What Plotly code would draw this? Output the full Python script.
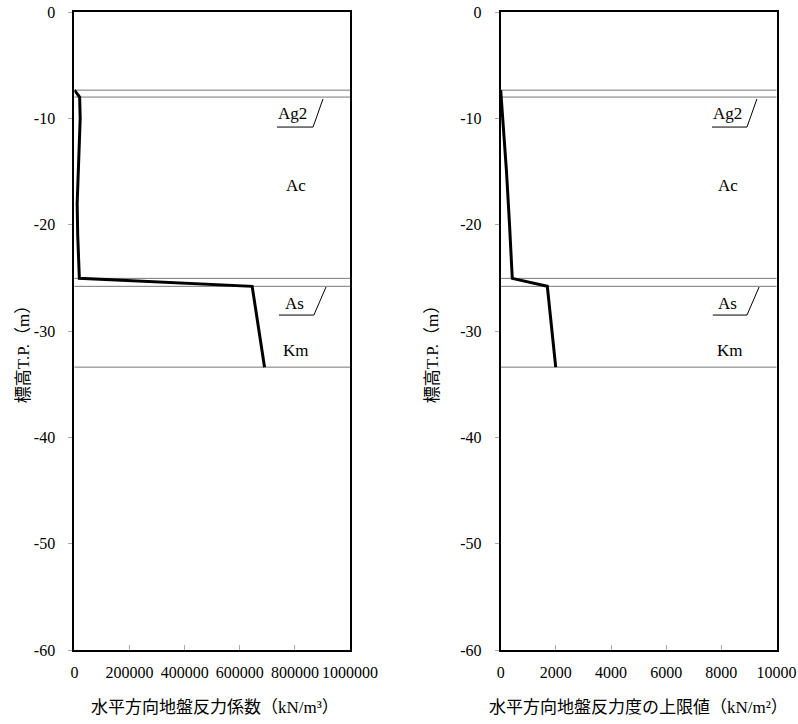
import plotly.graph_objects as go

# ---- data ----
left_depth = [-7.35, -8.0, -10.0, -12.0, -15.0, -18.0, -21.0, -25.05, -25.8, -33.4]
left_value = [0, 19000, 21000, 18000, 12000, 10000, 12000, 18000, 645000, 690000]

right_depth = [-7.35, -8.0, -15.0, -20.0, -25.05, -25.8, -33.4]
right_value = [0, 20, 210, 320, 420, 1690, 1995]

layer_depths = [-7.35, -8.0, -25.05, -25.8, -33.4]
layer_names = ["Ag2", "Ac", "As", "Km"]
layer_label_y = [-9.5, -16.3, -27.37, -31.8]

left_xticks = [0, 200000, 400000, 600000, 800000, 1000000]
right_xticks = [0, 2000, 4000, 6000, 8000, 10000]
yticks = [0, -10, -20, -30, -40, -50, -60]

left_xtitle = "水平方向地盤反力係数（kN/m³）"
right_xtitle = "水平方向地盤反力度の上限値（kN/m²）"
ytitle = "標高T.P.（m）"

FONT = "'Liberation Serif', 'Noto Sans CJK JP', serif"

fig = go.Figure()
fig.add_trace(go.Scatter(x=left_value, y=left_depth, mode="lines",
                         line=dict(color="black", width=3), xaxis="x", yaxis="y",
                         showlegend=False, hoverinfo="skip"))
fig.add_trace(go.Scatter(x=right_value, y=right_depth, mode="lines",
                         line=dict(color="black", width=3), xaxis="x2", yaxis="y2",
                         showlegend=False, hoverinfo="skip"))

W, H = 798, 724
ldom = [74.4 / W, 350.0 / W]
rdom = [500.7 / W, 776.5 / W]
top = 12
bottom = H - 650
plot_h = H - top - bottom

common_x = dict(showgrid=False, zeroline=False, showline=True, linecolor="black",
                linewidth=2, mirror=True, ticks="inside", ticklen=5, tickcolor="#aaaaaa",
                tickfont=dict(family=FONT, size=16, color="black"), automargin=False,
                ticklabelstandoff=7, ticklabeloverflow="allow")
common_y = dict(showgrid=False, zeroline=False, showline=True, linecolor="black",
                linewidth=2, mirror=True, ticks="outside", ticklen=4, tickcolor="#aaaaaa",
                tickfont=dict(family=FONT, size=16, color="black"), automargin=False,
                range=[-60, 0], tickvals=yticks, ticktext=[str(v) for v in yticks],
                ticklabelstandoff=10, ticklabeloverflow="allow")

fig.update_layout(
    width=W, height=H, autosize=False,
    margin=dict(l=0, r=0, t=top, b=bottom),
    paper_bgcolor="white", plot_bgcolor="white",
    xaxis=dict(domain=ldom, range=[0, 1000000], tickvals=left_xticks,
               ticktext=[str(v) for v in left_xticks], anchor="y", **common_x),
    yaxis=dict(domain=[0, 1], anchor="x", **common_y),
    xaxis2=dict(domain=rdom, range=[0, 10000], tickvals=right_xticks,
                ticktext=[str(v) for v in right_xticks], anchor="y2", **common_x),
    yaxis2=dict(domain=[0, 1], anchor="x2", **common_y),
)

shapes = []
annotations = []
for xa, ya in [("x", "y"), ("x2", "y2")]:
    for d in layer_depths:
        shapes.append(dict(type="line", xref=f"{xa} domain", yref=ya, x0=0, x1=1, y0=d, y1=d,
                           line=dict(color="#777777", width=1), layer="below"))

label_pos = {
    "x": dict(text_x=[0.793, 0.804, 0.80, 0.804],
              ag2_line=[0.735, 0.866, 0.902], as_line=[0.742, 0.869, 0.913]),
    "x2": dict(text_x=[0.824, 0.824, 0.824, 0.831],
               ag2_line=[0.766, 0.893, 0.929], as_line=[0.769, 0.893, 0.937]),
}
for xa, ya in [("x", "y"), ("x2", "y2")]:
    p = label_pos[xa]
    for name, tx, ty in zip(layer_names, p["text_x"], layer_label_y):
        annotations.append(dict(text=name, xref=f"{xa} domain", yref=ya, x=tx, y=ty,
                                xanchor="center", yanchor="middle",
                                showarrow=False, font=dict(family=FONT, size=17, color="black")))
    for (a, b, c), yl, yt in [(p["ag2_line"], -10.82, -8.18), (p["as_line"], -28.5, -25.86)]:
        shapes.append(dict(type="line", xref=f"{xa} domain", yref=ya, x0=a, x1=b, y0=yl, y1=yl,
                           line=dict(color="black", width=1)))
        shapes.append(dict(type="line", xref=f"{xa} domain", yref=ya, x0=b, x1=c, y0=yl, y1=yt,
                           line=dict(color="black", width=1)))

title_y = -(707 - 650) / plot_h
annotations.append(dict(text=left_xtitle, xref="x domain", yref="paper", x=0.51, y=title_y,
                        showarrow=False, xanchor="center", yanchor="middle",
                        font=dict(family=FONT, size=17, color="black")))
annotations.append(dict(text=right_xtitle, xref="x2 domain", yref="paper", x=0.5, y=title_y,
                        showarrow=False, xanchor="center", yanchor="middle",
                        font=dict(family=FONT, size=17, color="black")))
annotations.append(dict(text=ytitle, xref="paper", yref="y", x=23 / W, y=-31.8,
                        showarrow=False, textangle=-90, xanchor="center", yanchor="middle",
                        font=dict(family=FONT, size=17, color="black")))
annotations.append(dict(text=ytitle, xref="paper", yref="y2", x=432 / W, y=-31.8,
                        showarrow=False, textangle=-90, xanchor="center", yanchor="middle",
                        font=dict(family=FONT, size=17, color="black")))

fig.update_layout(shapes=shapes, annotations=annotations)
fig.write_html("out.html", config={"displayModeBar": False},
               post_script="document.body.style.margin='0';")
